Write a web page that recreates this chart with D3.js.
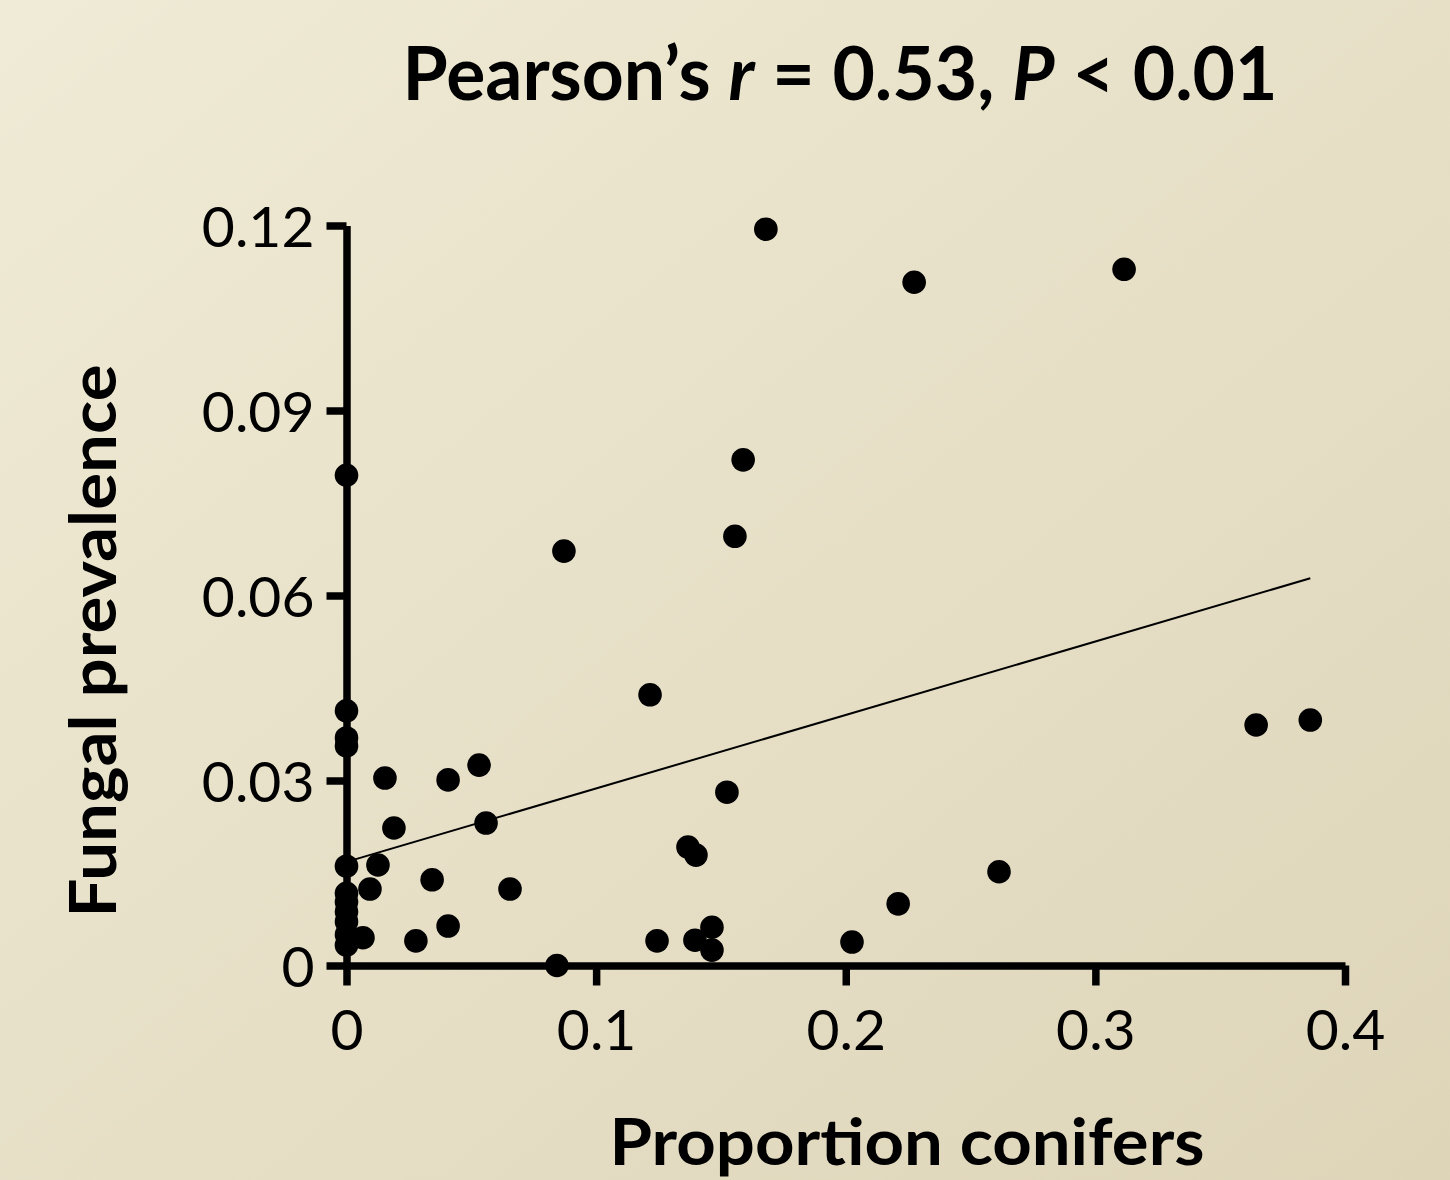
<!DOCTYPE html>
<html>
<head>
<meta charset="utf-8">
<script src="https://cdn.jsdelivr.net/npm/d3@7"></script>
<style>
  html, body { margin: 0; padding: 0; }
  body { width: 1450px; height: 1180px; overflow: hidden; }
</style>
</head>
<body>
<script>
// proportion of conifers (x) and fungal prevalence (y)
var conifers = [0.168, 0.2274, 0.3115, 0.1589, 0.1556, 0.0871, 0, 0.1216, 0.3644, 0.3861,
  0, 0, 0, 0.0154, 0.0407, 0.0531, 0.019, 0.0559, 0.1524, 0.1368,
  0.14, 0.0126, 0, 0.0094, 0.0343, 0.0655, 0.2614, 0.221, 0.0407, 0.0278,
  0.0066, 0.0843, 0.1244, 0.1396, 0.1464, 0.1464, 0.2025, 0, 0, 0,
  0, 0, 0];
var prevalence = [0.1194, 0.1108, 0.1129, 0.0820, 0.0696, 0.0672, 0.0795, 0.0439, 0.0390, 0.0398,
  0.0413, 0.0369, 0.0356, 0.0304, 0.0301, 0.0325, 0.0223, 0.0231, 0.0281, 0.0192,
  0.0179, 0.0163, 0.0161, 0.0124, 0.0139, 0.0124, 0.0152, 0.0100, 0.0064, 0.0040,
  0.0045, 0.0000, 0.0040, 0.0041, 0.0062, 0.0025, 0.0038, 0.0117, 0.0103, 0.0087,
  0.0071, 0.0050, 0.0033];

// linear fit end points
var fitX = [0, 0.3861];
var fitY = [0.0168, 0.0628];

var xTicks = [0, 0.1, 0.2, 0.3, 0.4];
var yTicks = [0, 0.03, 0.06, 0.09, 0.12];
var xTickLabels = ["0", "0.1", "0.2", "0.3", "0.4"];
var yTickLabels = ["0", "0.03", "0.06", "0.09", "0.12"];

var width = 1450, height = 1180;

var svg = d3.select("body")
  .append("svg")
    .attr("width", width)
    .attr("height", height);

// soft beige background
var grad = svg.append("defs").append("linearGradient")
  .attr("id", "bg")
  .attr("x1", "0").attr("y1", "0")
  .attr("x2", "1").attr("y2", "1");
grad.append("stop").attr("offset", "0").attr("stop-color", "#f0ebd6");
grad.append("stop").attr("offset", "1").attr("stop-color", "#ded5b9");

svg.append("rect")
  .attr("width", width)
  .attr("height", height)
  .attr("fill", "url(#bg)");

var x = d3.scaleLinear().domain([0, 0.4]).range([346.5, 1345]);
var y = d3.scaleLinear().domain([0, 0.12]).range([965.5, 225.5]);

// axes
var xAxis = d3.axisBottom(x)
  .tickValues(xTicks)
  .tickFormat(function (d, i) { return xTickLabels[i]; })
  .tickSize(20)
  .tickSizeOuter(0)
  .tickPadding(22);

var yAxis = d3.axisLeft(y)
  .tickValues(yTicks)
  .tickFormat(function (d, i) { return yTickLabels[i]; })
  .tickSize(20)
  .tickSizeOuter(0)
  .tickPadding(12);

var gx = svg.append("g")
  .attr("transform", "translate(0," + y(0) + ")")
  .call(xAxis);

var gy = svg.append("g")
  .attr("transform", "translate(" + x(0) + ",0)")
  .call(yAxis);

[gx, gy].forEach(function (g) {
  g.select(".domain").attr("stroke", "#000").attr("stroke-width", 7.5);
  g.selectAll(".tick line").attr("stroke", "#000").attr("stroke-width", 7.5);
  g.selectAll(".tick text")
    .attr("fill", "#000")
    .style("font-family", "Lato, 'Open Sans', sans-serif")
    .style("font-size", "57px");
});
gy.selectAll(".tick text").attr("dy", "0.36em");
gx.selectAll(".tick text").attr("dy", "0.74em");

// fit line
svg.append("line")
  .attr("x1", x(fitX[0])).attr("y1", y(fitY[0]))
  .attr("x2", x(fitX[1])).attr("y2", y(fitY[1]))
  .attr("stroke", "#000")
  .attr("stroke-width", 2);

// points
svg.selectAll("circle.pt")
  .data(conifers)
  .enter()
  .append("circle")
    .attr("class", "pt")
    .attr("cx", function (d) { return x(d); })
    .attr("cy", function (d, i) { return y(prevalence[i]); })
    .attr("r", 11.8)
    .attr("fill", "#000");

// title, squeezed horizontally to the reference width
var titleG = svg.append("g");
var title = titleG.append("text")
  .attr("text-anchor", "middle")
  .style("font-family", "Lato, 'Open Sans', sans-serif")
  .style("font-weight", "bold")
  .style("font-size", "75px");
title.append("tspan").text("Pearson\u2019s ");
title.append("tspan").style("font-style", "italic").text("r");
title.append("tspan").text(" = 0.53, ");
title.append("tspan").style("font-style", "italic").text("P");
title.append("tspan").text(" < 0.01");
var tw = title.node().getComputedTextLength();
titleG.attr("transform", "translate(840,100) scale(" + (875 / tw) + ",1)");

// axis titles
svg.append("text")
  .attr("x", 907)
  .attr("y", 1165)
  .attr("text-anchor", "middle")
  .attr("textLength", 595)
  .attr("lengthAdjust", "spacingAndGlyphs")
  .style("font-family", "Lato, 'Open Sans', sans-serif")
  .style("font-weight", "bold")
  .style("font-size", "65px")
  .text("Proportion conifers");

svg.append("text")
  .attr("transform", "translate(116,641) rotate(-90)")
  .attr("text-anchor", "middle")
  .attr("textLength", 553)
  .attr("lengthAdjust", "spacingAndGlyphs")
  .style("font-family", "Lato, 'Open Sans', sans-serif")
  .style("font-weight", "bold")
  .style("font-size", "65px")
  .text("Fungal prevalence");
</script>
</body>
</html>
